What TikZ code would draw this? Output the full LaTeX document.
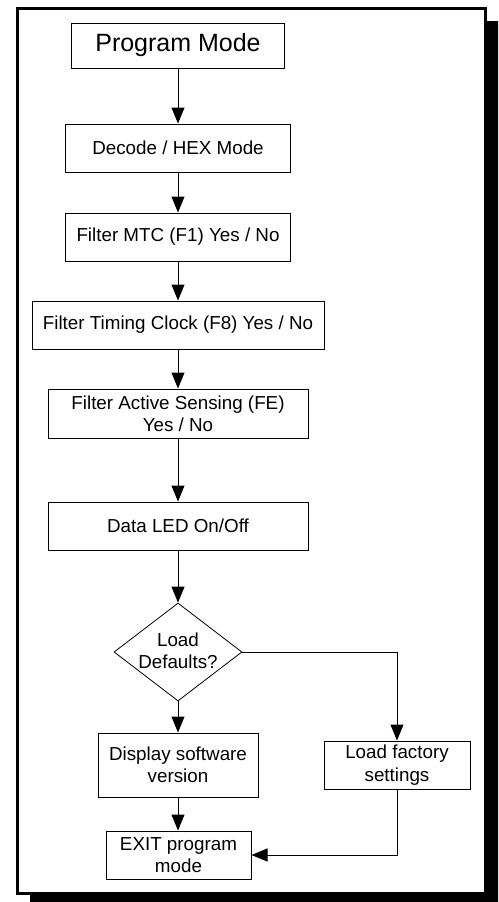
\documentclass[tikz,border=0pt]{standalone}
\usepackage{fontspec}
\setmainfont{Liberation Sans}
\usetikzlibrary{shapes.geometric,arrows.meta}
\begin{document}
\begin{tikzpicture}[x=1pt,y=-1pt,
  box/.style={draw, line width=1pt, inner sep=0pt, align=center,
    font=\fontsize{18.8}{22.3}\selectfont},
  conn/.style={line width=1pt, -{Triangle[length=16pt,width=13pt]}},
  plain/.style={line width=1pt}]
\useasboundingbox (0,0) rectangle (498,902);
\clip (0,0) rectangle (498,902);
% frame with shadow
\fill[black] (30,21) rectangle (510,915);
\draw[line width=3pt, fill=white] (17.5,8.5) rectangle (485,893.5);
% nodes
\node[box, minimum width=213pt, minimum height=45pt,
  font=\fontsize{25}{30}\selectfont] (pm) at (178,45.5) {Program Mode};
\node[box, minimum width=225pt, minimum height=48pt] (dec) at (178,148) {Decode / HEX Mode};
\node[box, minimum width=225pt, minimum height=48pt] (mtc) at (178,237) {Filter MTC (F1) Yes / No};
\node[box, minimum width=292pt, minimum height=48pt] (tim) at (178,325) {Filter Timing Clock (F8) Yes / No};
\node[box, minimum width=260pt, minimum height=49pt] (act) at (178,413.5) {Filter Active Sensing (FE)\\Yes / No};
\node[box, minimum width=260pt, minimum height=48pt] (led) at (178,526) {Data LED On/Off};
\node[draw, diamond, line width=0.8pt, minimum width=128pt, minimum height=98pt,
  inner sep=0pt, aspect=1.306] (dia) at (178,652) {};
\node[align=center, inner sep=0pt, font=\fontsize{18.8}{22.3}\selectfont] (dtx) at (178,651) {Load\\Defaults?};
\node[box, minimum width=160pt, minimum height=64pt] (dsv) at (178,765) {Display software\\version};
\node[box, minimum width=146pt, minimum height=48pt] (lfs) at (397,765) {Load factory\\settings};
\node[box, minimum width=145pt, minimum height=48pt] (ext) at (178.5,855) {EXIT program\\mode};
% connectors
\draw[conn] (pm) -- (dec);
\draw[conn] (dec) -- (mtc);
\draw[conn] (mtc) -- (tim);
\draw[conn] (tim) -- (act);
\draw[conn] (act) -- (led);
\draw[conn] (led) -- (dia);
\draw[conn] (dia.south) -- (dsv.north);
\draw[conn] (dia.east) -| (lfs.north);
\draw[conn] (dsv.south) -- (dsv.south |- ext.north);
\draw[conn] (lfs.south) |- (ext.east);
\end{tikzpicture}
\end{document}
